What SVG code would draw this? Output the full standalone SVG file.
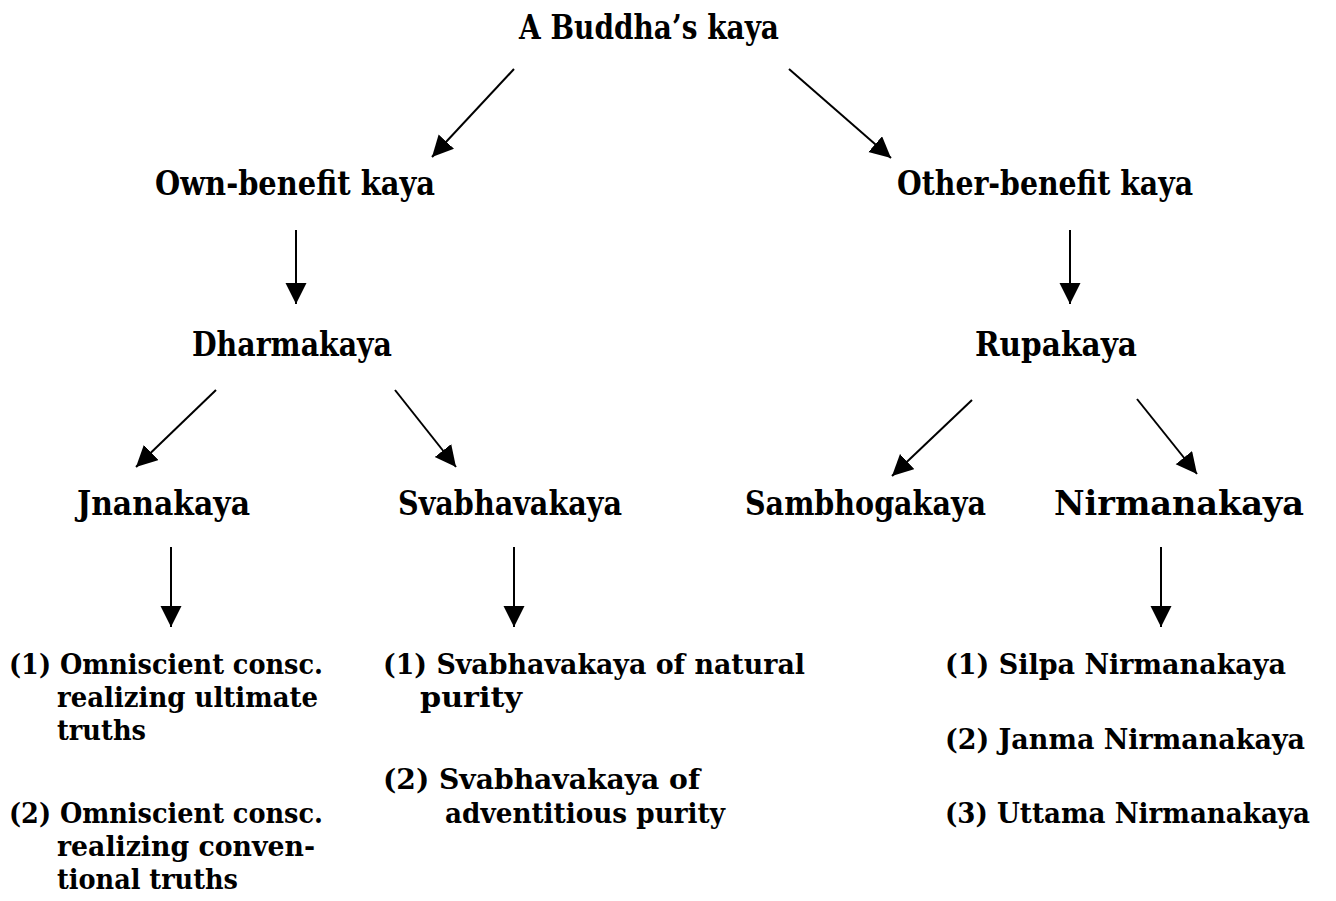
<svg xmlns="http://www.w3.org/2000/svg" width="1336" height="901" viewBox="0 0 1336 901">
  <style>
    .t { font-family: "DejaVu Serif", "Liberation Serif", serif; font-weight: bold; fill: #000; }
    .h { font-size: 34px; }
    .s { font-size: 28.5px; }
    .c line { stroke: #000; stroke-width: 2; marker-end: url(#ah); }
  </style>
  <defs>
    <marker id="ah" markerUnits="userSpaceOnUse" markerWidth="22" markerHeight="22" viewBox="0 0 22 22" refX="21" refY="10.5" orient="auto">
      <path d="M0,0 L21,10.5 L0,21 z" fill="#000"/>
    </marker>
  </defs>
  <rect width="1336" height="901" fill="#fff"/>

  <!-- connectors -->
  <g id="connectors" class="c">
    <line x1="514" y1="69" x2="432" y2="157"/>
    <line x1="789" y1="69" x2="891" y2="158"/>
    <line x1="296" y1="230" x2="296" y2="304"/>
    <line x1="1070" y1="230" x2="1070" y2="304"/>
    <line x1="216" y1="390" x2="136" y2="467"/>
    <line x1="395" y1="390" x2="456" y2="467"/>
    <line x1="972" y1="400" x2="892" y2="476"/>
    <line x1="1137" y1="399" x2="1197" y2="474"/>
    <line x1="171" y1="547" x2="171" y2="627"/>
    <line x1="514" y1="547" x2="514" y2="627"/>
    <line x1="1161" y1="547" x2="1161" y2="627"/>
  </g>

  <!-- level 0 -->
  <g id="buddha-kaya">
    <text class="t h" x="519" y="39" textLength="260" lengthAdjust="spacingAndGlyphs">A Buddha’s kaya</text>
  </g>

  <!-- level 1 -->
  <g id="own-benefit">
    <text class="t h" x="155" y="195" textLength="280" lengthAdjust="spacingAndGlyphs">Own-benefit kaya</text>
  </g>
  <g id="other-benefit">
    <text class="t h" x="897" y="195" textLength="296" lengthAdjust="spacingAndGlyphs">Other-benefit kaya</text>
  </g>

  <!-- level 2 -->
  <g id="dharmakaya">
    <text class="t h" x="192" y="356" textLength="200" lengthAdjust="spacingAndGlyphs">Dharmakaya</text>
  </g>
  <g id="rupakaya">
    <text class="t h" x="975" y="356" textLength="162" lengthAdjust="spacingAndGlyphs">Rupakaya</text>
  </g>

  <!-- level 3 -->
  <g id="jnanakaya">
    <text class="t h" x="77" y="515" textLength="173" lengthAdjust="spacingAndGlyphs">Jnanakaya</text>
  </g>
  <g id="svabhavakaya">
    <text class="t h" x="398" y="515" textLength="224" lengthAdjust="spacingAndGlyphs">Svabhavakaya</text>
  </g>
  <g id="sambhogakaya">
    <text class="t h" x="745" y="515" textLength="241" lengthAdjust="spacingAndGlyphs">Sambhogakaya</text>
  </g>
  <g id="nirmanakaya">
    <text class="t h" x="1054" y="515" textLength="250" lengthAdjust="spacingAndGlyphs">Nirmanakaya</text>
  </g>

  <!-- level 4: lists -->
  <g id="jnanakaya-list">
    <text class="t s" x="9" y="674" textLength="314" lengthAdjust="spacingAndGlyphs">(1) Omniscient consc.</text>
    <text class="t s" x="57" y="707" textLength="261" lengthAdjust="spacingAndGlyphs">realizing ultimate</text>
    <text class="t s" x="57" y="740" textLength="89" lengthAdjust="spacingAndGlyphs">truths</text>
    <text class="t s" x="9" y="823" textLength="314" lengthAdjust="spacingAndGlyphs">(2) Omniscient consc.</text>
    <text class="t s" x="57" y="856" textLength="258" lengthAdjust="spacingAndGlyphs">realizing conven-</text>
    <text class="t s" x="57" y="889" textLength="181" lengthAdjust="spacingAndGlyphs">tional truths</text>
  </g>
  <g id="svabhavakaya-list">
    <text class="t s" x="383" y="674" textLength="422" lengthAdjust="spacingAndGlyphs">(1) Svabhavakaya of natural</text>
    <text class="t s" x="420" y="707" textLength="102" lengthAdjust="spacingAndGlyphs">purity</text>
    <text class="t s" x="383" y="789" textLength="317" lengthAdjust="spacingAndGlyphs">(2)  Svabhavakaya of</text>
    <text class="t s" x="445" y="823" textLength="280" lengthAdjust="spacingAndGlyphs">adventitious purity</text>
  </g>
  <g id="nirmanakaya-list">
    <text class="t s" x="945" y="674" textLength="341" lengthAdjust="spacingAndGlyphs">(1) Silpa Nirmanakaya</text>
    <text class="t s" x="945" y="749" textLength="360" lengthAdjust="spacingAndGlyphs">(2) Janma Nirmanakaya</text>
    <text class="t s" x="945" y="823" textLength="365" lengthAdjust="spacingAndGlyphs">(3) Uttama Nirmanakaya</text>
  </g>
</svg>
